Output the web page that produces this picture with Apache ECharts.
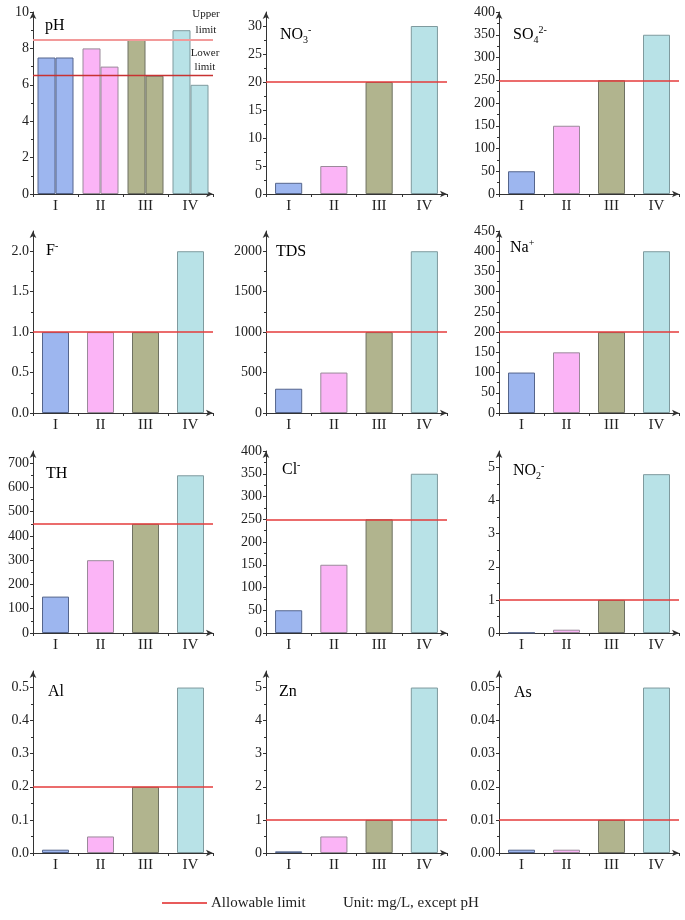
<!DOCTYPE html>
<html><head><meta charset="utf-8">
<script src="https://cdn.jsdelivr.net/npm/echarts@6/dist/echarts.min.js"></script>
<style>html,body{margin:0;padding:0;background:#fff}#c{width:685px;height:920px}</style>
</head><body><div id="c"></div>
<script>
// ---- data ----
const categories = ['I', 'II', 'III', 'IV'];
const phHigh = [7.5, 8, 8.5, 9];
const phLow = [7.5, 7, 6.5, 6];
const phLimits = [8.5, 6.5];
const no3 = [2, 5, 20, 30];
const so4 = [50, 150, 250, 350];
const fl = [1, 1, 1, 2];
const tds = [300, 500, 1000, 2000];
const na = [100, 150, 200, 400];
const th = [150, 300, 450, 650];
const cl = [50, 150, 250, 350];
const no2 = [0.01, 0.1, 1, 4.8];
const al = [0.01, 0.05, 0.2, 0.5];
const zn = [0.05, 0.5, 1, 5];
const as = [0.001, 0.001, 0.01, 0.05];
const panelValues = [null, no3, so4, fl, tds, na, th, cl, no2, al, zn, as];
const limitValues = [null, 20, 250, 1, 1000, 200, 450, 250, 1, 0.2, 1, 0.01];
// tick specs
const axisMax = [10, 32.5, 400, 2.25, 2250, 450, 750, 400, 5.5, 0.55, 5.5, 0.055];
const axisInterval = [2, 5, 50, 0.5, 500, 50, 100, 50, 1, 0.1, 1, 0.01];
const tickTop = [10, 30, 400, 2, 2000, 450, 700, 400, 5, 0.5, 5, 0.05];
const tickDecimals = [0, 0, 0, 1, 0, 0, 0, 0, 0, 1, 0, 2];
const titles = ['pH', '{m|NO}{sub|3}{sup|-}', '{m|SO}{sub|4}{sup|2-}', '{m|F}{sup|-}', 'TDS', '{m|Na}{sup|+}',
  'TH', '{m|Cl}{sup|-}', '{m|NO}{sub|2}{sup|-}', 'Al', 'Zn', 'As'];

// ---- style / layout ----
const FONT = '"Liberation Serif", "Times New Roman", serif';
const barColors = ['#9db6ef', '#fbb4f6', '#b1b48e', '#b8e2e7'];
const barBorders = ['#55658c', '#9a8a9a', '#6f7162', '#7f9a9e'];
const colLeft = [33, 266, 499];
const colWidth = [180, 181, 180];
const rowTop = [12, 231, 451, 671];
const plotH = 182;
const titleDx = [12, 14, 14, 13, 10, 11, 13, 16, 14, 15, 13, 15];
const titleDy = [16, 23, 23, 20, 23, 17, 25, 19, 20, 23, 23, 24];
const LIMIT_RED = '#e43b3b';

const grids = [], xAxes = [], yAxes = [], series = [], graphics = [];
const richStyle = {
  m: {fontFamily: FONT, fontSize: 16, color: '#222', lineHeight: 20},
  sub: {fontFamily: FONT, fontSize: 10, color: '#222', lineHeight: 10, verticalAlign: 'bottom'},
  sup: {fontFamily: FONT, fontSize: 10, color: '#222', lineHeight: 10, verticalAlign: 'top'}
};
function items(vals) {
  return vals.map((v, k) => ({value: v, itemStyle: {color: barColors[k], borderColor: barBorders[k], borderWidth: 1}}));
}
for (let i = 0; i < 12; i++) {
  const col = i % 3, row = Math.floor(i / 3);
  grids.push({left: colLeft[col], top: rowTop[row], width: colWidth[col], height: plotH, containLabel: false});
  xAxes.push({
    type: 'category', gridIndex: i, data: categories,
    axisLine: {symbol: ['none', 'arrow'], symbolSize: [5, 7], lineStyle: {color: '#333', width: 1}},
    axisTick: {show: true, length: 3, lineStyle: {color: '#333'}},
    axisLabel: {fontFamily: FONT, fontSize: 15, color: '#222', margin: 5}
  });
  const ticks = [];
  for (let k = 0; k * axisInterval[i] <= tickTop[i] + 1e-9; k++) ticks.push(+(k * axisInterval[i]).toFixed(6));
  yAxes.push({
    type: 'value', gridIndex: i, min: 0, max: axisMax[i], interval: axisInterval[i],
    splitLine: {show: false},
    axisLine: {show: true, symbol: ['none', 'arrow'], symbolSize: [5, 7], lineStyle: {color: '#333', width: 1}},
    axisTick: {show: true, length: 3, customValues: ticks, lineStyle: {color: '#333'}},
    minorTick: {show: true, splitNumber: 2, length: 2, lineStyle: {color: '#333'}},
    axisLabel: {customValues: ticks, fontFamily: FONT, fontSize: 14, color: '#222', margin: 4,
      formatter: (v) => Number(v).toFixed(tickDecimals[i])}
  });
  graphics.push({
    type: 'text', left: colLeft[col] + titleDx[i], top: rowTop[row] + titleDy[i] - 10,
    style: {text: titles[i].indexOf('{') === 0 ? titles[i] : '{m|' + titles[i] + '}', rich: richStyle}
  });
  if (i === 0) {
    const lbl = {show: true, position: 'insideEndTop', align: 'center', distance: 2, padding: [0, 12, 0, 0],
      fontFamily: FONT, fontSize: 11, lineHeight: 14, color: '#222'};
    series.push({
      type: 'bar', xAxisIndex: 0, yAxisIndex: 0, data: items(phHigh), barGap: '0%', barCategoryGap: '20%',
      markLine: {silent: true, symbol: 'none', data: [
        {yAxis: phLimits[0], lineStyle: {color: '#f29a9a', width: 2, type: 'solid'}, label: Object.assign({}, lbl, {formatter: 'Upper\nlimit', lineHeight: 16, distance: 1})},
        {yAxis: phLimits[1], lineStyle: {color: '#c83232', width: 1.3, type: 'solid'}, label: Object.assign({}, lbl, {formatter: 'Lower\nlimit'})}
      ]}
    });
    series.push({type: 'bar', xAxisIndex: 0, yAxisIndex: 0, data: items(phLow), barGap: '0%', barCategoryGap: '20%'});
  } else {
    series.push({
      type: 'bar', xAxisIndex: i, yAxisIndex: i, data: items(panelValues[i]), barCategoryGap: '40%',
      markLine: {silent: true, symbol: 'none', label: {show: false},
        lineStyle: {color: LIMIT_RED, width: 1.5, type: 'solid'},
        data: [{yAxis: limitValues[i]}]}
    });
  }
}
// legend / note
graphics.push({type: 'line', shape: {x1: 162, y1: 903, x2: 207, y2: 903}, style: {stroke: '#e02424', lineWidth: 1.5}});
graphics.push({type: 'text', x: 211, y: 903, style: {text: 'Allowable limit', fontFamily: FONT, fontSize: 15, fill: '#222', verticalAlign: 'middle'}});
graphics.push({type: 'text', x: 343, y: 903, style: {text: 'Unit: mg/L, except pH', fontFamily: FONT, fontSize: 15, fill: '#222', verticalAlign: 'middle'}});

const chart = echarts.init(document.getElementById('c'), null, {renderer: 'canvas'});
chart.setOption({
  backgroundColor: '#fff', animation: false,
  grid: grids, xAxis: xAxes, yAxis: yAxes, series: series, graphic: graphics
});
</script></body></html>
